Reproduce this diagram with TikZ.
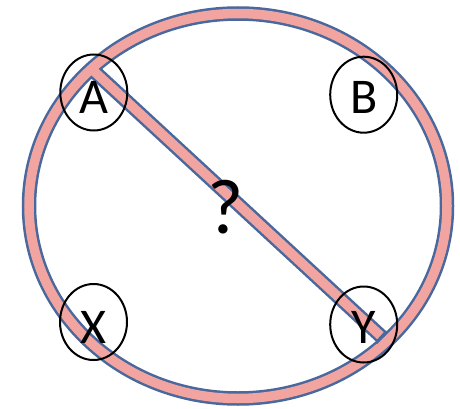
\documentclass[tikz,border=0pt]{standalone}
\usepackage{fontspec}
\setmainfont{Carlito}
\usetikzlibrary{shapes.geometric}
\definecolor{bandpink}{RGB}{242,165,160}
\definecolor{bandblue}{RGB}{72,104,158}
\begin{document}
\begin{tikzpicture}[x=1pt,y=-1pt,
  outer/.style={draw=bandblue,line width=14.5pt,line cap=butt},
  inner/.style={draw=bandpink,line width=9.5pt,line cap=butt},
  ring/.style={draw=black,line width=2pt,ellipse,minimum width=67pt,minimum height=76pt,inner sep=0pt},
  letter/.style={anchor=base,inner sep=0pt,font=\fontsize{50}{55}\selectfont}]
\useasboundingbox (0,0) rectangle (460,409);
\fill[white] (0,0) rectangle (460,409);
\coordinate (c) at (238,206);
\coordinate (d1) at (91.9,69.3);
\coordinate (d2) at (382.6,337.7);
\coordinate (d3) at (380.4,335.7);
\coordinate (k1) at (386.9,331.5);
\coordinate (k2) at (376.1,343.4);
% blue outlines
\draw[outer] (c) ellipse [x radius=209, y radius=192.5];
\draw[outer] (d1) -- (d2);
% pink fills
\draw[inner] (c) ellipse [x radius=209, y radius=192.5];
\draw[inner] (d1) -- (d3);
\draw[draw=bandblue,line width=2.5pt] (k1) -- (k2);
% circles
\node[ring] (A) at (93.8,92.5) {};
\node[ring] (B) at (363.7,94.7) {};
\node[ring] (X) at (93.5,322) {};
\node[ring] (Y) at (363.7,324.5) {};
\node[letter] (tA) at (93.8,113.5) {A};
\node[letter] (tB) at (363.7,113.5) {B};
\node[letter] (tX) at (93.5,343.5) {X};
\node[letter] (tY) at (363.7,343.5) {Y};
\node[anchor=base,inner sep=0pt,font=\fontsize{78}{82}\selectfont] (q) at (226,233) {?};
\end{tikzpicture}
\end{document}
